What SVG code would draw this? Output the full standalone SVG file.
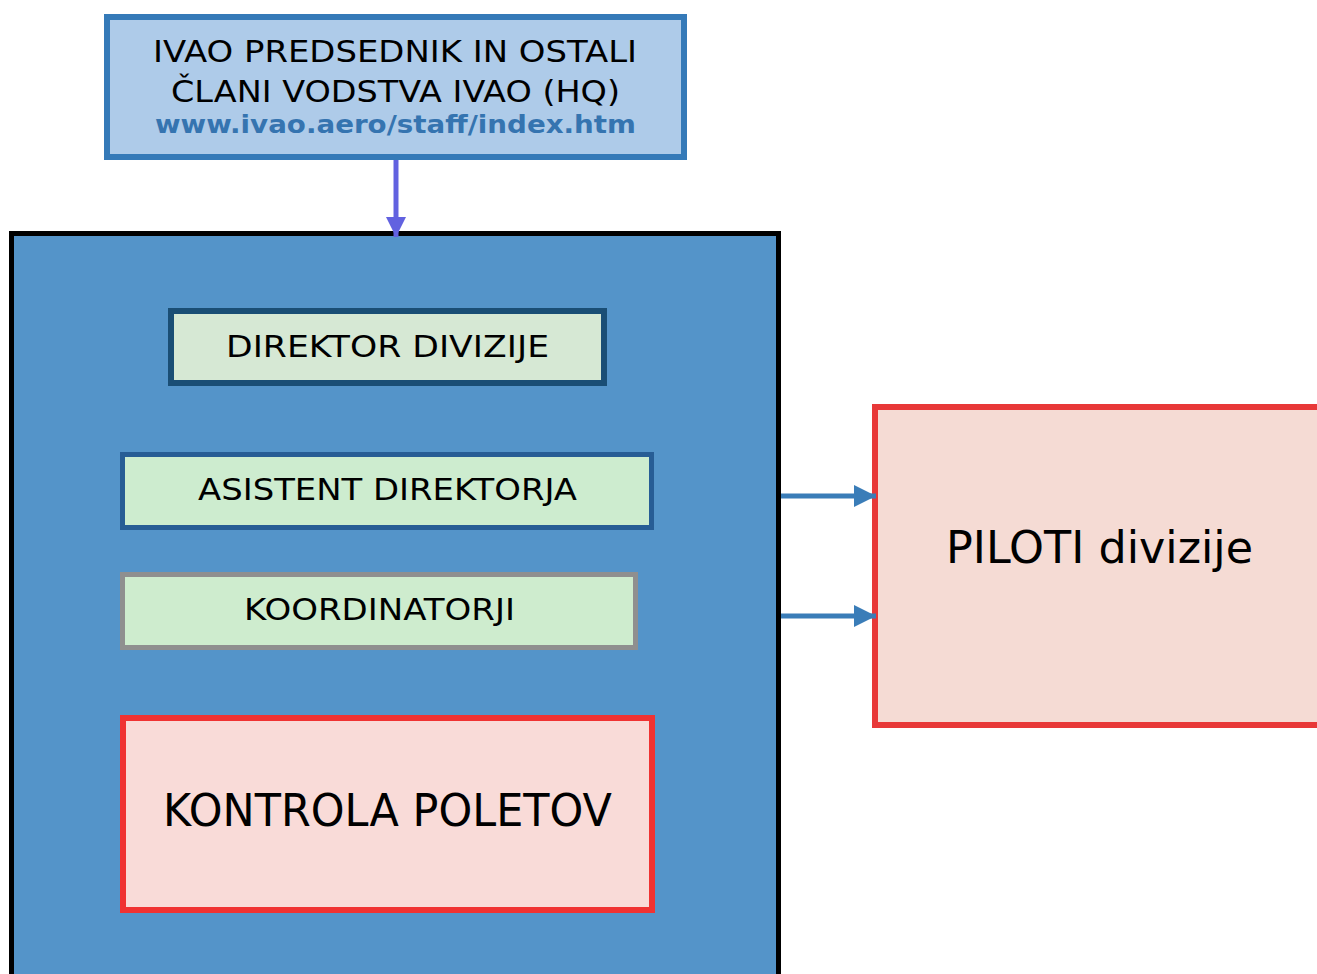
<svg xmlns="http://www.w3.org/2000/svg" width="1317" height="974" viewBox="0 0 1317 974">
<style>
  text { font-family: "DejaVu Sans", "Verdana", sans-serif; fill: #000; }
  .t32 { font-size: 31px; }
  .big { font-size: 44px; }
  .url { font-size: 25px; font-weight: bold; fill: #3574b0; }
  .conn { fill: none; stroke-width: 5; }
</style>
<defs>
  <marker id="ahPurple" markerUnits="userSpaceOnUse" markerWidth="22" markerHeight="20" refX="20" refY="10" orient="auto">
    <path d="M0,0 L20,10 L0,20 Z" fill="#6262e0"/>
  </marker>
  <marker id="ahBlue" markerUnits="userSpaceOnUse" markerWidth="24" markerHeight="24" refX="22" refY="12" orient="auto">
    <path d="M0,1 L22,12 L0,23 Z" fill="#3a7db8"/>
  </marker>
</defs>
<rect x="0" y="0" width="1317" height="974" fill="#ffffff"/>

<g id="division">
  <rect x="11.5" y="233.5" width="767" height="800" fill="#5494c9" stroke="#000000" stroke-width="5"/>
</g>

<g id="hq">
  <rect x="107" y="17" width="577" height="140" fill="#aecbe9" stroke="#357ab8" stroke-width="6"/>
  <text class="t32" x="395" y="62" text-anchor="middle" textLength="484" lengthAdjust="spacingAndGlyphs">IVAO PREDSEDNIK IN OSTALI</text>
  <text class="t32" x="395.5" y="102" text-anchor="middle" textLength="449" lengthAdjust="spacingAndGlyphs">ČLANI VODSTVA IVAO (HQ)</text>
  <text class="url" x="395.5" y="133" text-anchor="middle" textLength="481" lengthAdjust="spacingAndGlyphs">www.ivao.aero/staff/index.htm</text>
</g>

<g id="direktor">
  <rect x="171" y="311" width="433" height="72" fill="#d6e8d4" stroke="#1a4e75" stroke-width="6"/>
  <text class="t32" x="387.5" y="357" text-anchor="middle" textLength="323" lengthAdjust="spacingAndGlyphs">DIREKTOR DIVIZIJE</text>
</g>

<g id="asistent">
  <rect x="122.5" y="454.5" width="529" height="73" fill="#cdeccf" stroke="#275d95" stroke-width="5"/>
  <text class="t32" x="387.5" y="500" text-anchor="middle" textLength="379" lengthAdjust="spacingAndGlyphs">ASISTENT DIREKTORJA</text>
</g>

<g id="koordinatorji">
  <rect x="122.5" y="574.5" width="513" height="73" fill="#ceecce" stroke="#8f8f8f" stroke-width="5"/>
  <text class="t32" x="379.5" y="620" text-anchor="middle" textLength="271" lengthAdjust="spacingAndGlyphs">KOORDINATORJI</text>
</g>

<g id="kontrola">
  <rect x="123" y="718" width="529" height="192" fill="#f9dbd8" stroke="#f03232" stroke-width="6"/>
  <text class="big" x="387.5" y="826" text-anchor="middle" textLength="449" lengthAdjust="spacingAndGlyphs">KONTROLA POLETOV</text>
</g>

<g id="piloti">
  <rect x="875" y="407" width="460" height="318" fill="#f5dbd4" stroke="#e83838" stroke-width="6"/>
  <text class="big" x="1099.5" y="563" text-anchor="middle" textLength="307" lengthAdjust="spacingAndGlyphs">PILOTI divizije</text>
</g>

<g id="connectors">
  <line class="conn" x1="396" y1="160" x2="396" y2="237" stroke="#6262e0" marker-end="url(#ahPurple)"/>
  <line class="conn" x1="781" y1="496" x2="876" y2="496" stroke="#3a7db8" marker-end="url(#ahBlue)"/>
  <line class="conn" x1="781" y1="616" x2="876" y2="616" stroke="#3a7db8" marker-end="url(#ahBlue)"/>
</g>
</svg>
